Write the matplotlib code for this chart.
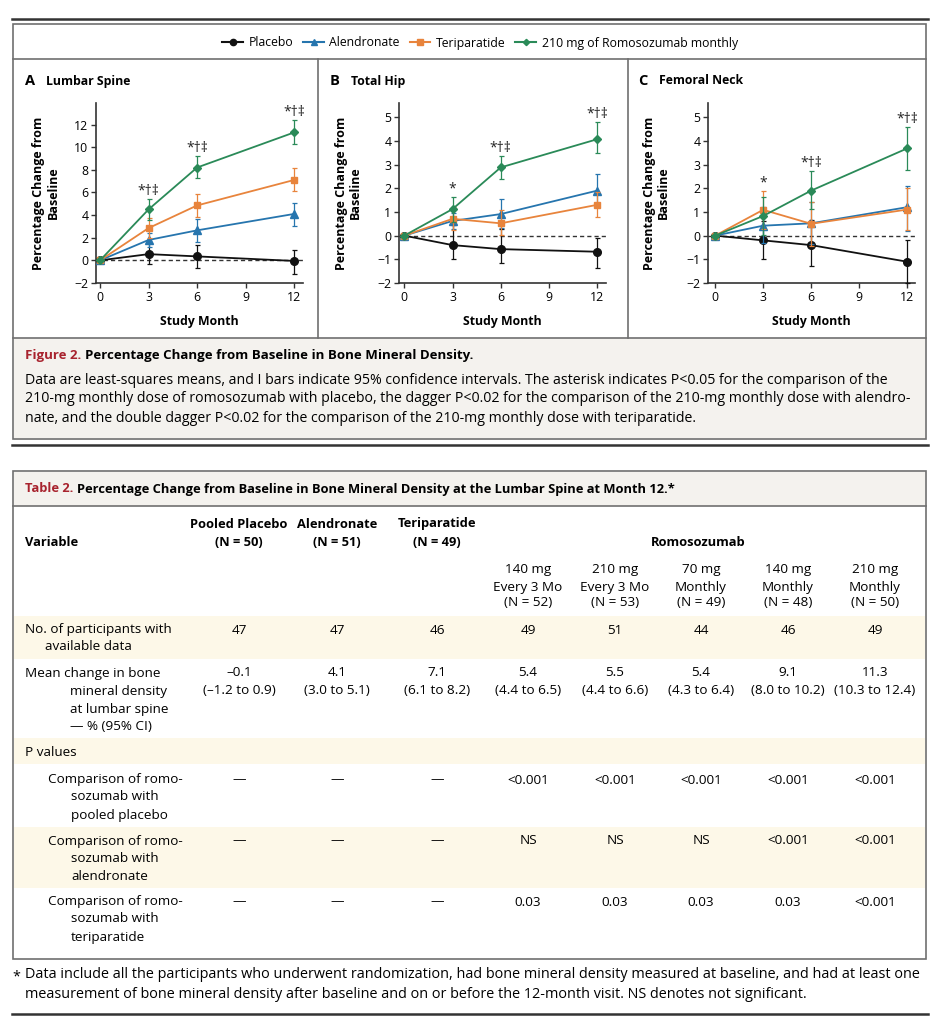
import matplotlib
matplotlib.use("Agg")
import matplotlib.pyplot as plt
from matplotlib.lines import Line2D
from matplotlib.patches import Rectangle

plt.rcParams['font.family'] = ['Open Sans', 'DejaVu Sans']

# === Данные графиков ===
months = [0, 3, 6, 12]
groups = ["Placebo", "Alendronate", "Teriparatide", "210 mg of Romosozumab monthly"]
colors = ["#111111", "#2675AE", "#E8843C", "#2A8A58"]
markers = ["o", "^", "s", "D"]
msizes = [5.5, 5.5, 5, 4.2]

# Lumbar spine: mean, lower, upper
spine_mean = [[0, 0.55, 0.35, -0.05], [0, 1.8, 2.65, 4.1], [0, 2.85, 4.85, 7.1], [0, 4.5, 8.2, 11.3]]
spine_lo = [[0, -0.3, -0.7, -1.2], [0, 1.2, 1.65, 3.0], [0, 1.95, 3.85, 6.1], [0, 3.6, 7.25, 10.3]]
spine_hi = [[0, 1.55, 1.4, 0.95], [0, 2.4, 3.65, 5.1], [0, 3.75, 5.85, 8.2], [0, 5.4, 9.2, 12.4]]
spine_sig = ["", "*†‡", "*†‡", "*†‡"]

# Total hip
hip_mean = [[0, -0.4, -0.57, -0.68], [0, 0.62, 0.91, 1.9], [0, 0.71, 0.52, 1.3], [0, 1.12, 2.88, 4.07]]
hip_lo = [[0, -0.98, -1.16, -1.37], [0, 0.3, 0.31, 1.22], [0, 0.24, 0.03, 0.77], [0, 0.59, 2.38, 3.49]]
hip_hi = [[0, 0.45, 0.3, -0.08], [0, 0.95, 1.53, 2.62], [0, 1.2, 1.08, 1.85], [0, 1.64, 3.38, 4.78]]
hip_sig = ["", "*", "*†‡", "*†‡"]

# Femoral neck
neck_mean = [[0, -0.2, -0.4, -1.1], [0, 0.42, 0.52, 1.2], [0, 1.09, 0.5, 1.1], [0, 0.83, 1.9, 3.68]]
neck_lo = [[0, -1.0, -1.27, -2.0], [0, -0.3, -0.35, 0.2], [0, 0.3, -0.42, 0.22], [0, 0.03, 1.14, 2.79]]
neck_hi = [[0, 0.6, 0.66, -0.18], [0, 1.2, 1.4, 2.1], [0, 1.9, 1.4, 2.02], [0, 1.62, 2.72, 4.6]]
neck_sig = ["", "*", "*†‡", "*†‡"]

# === Данные таблицы ===
col_groups = ["Pooled Placebo", "Alendronate", "Teriparatide"]
col_n = [50, 51, 49, 52, 53, 49, 48, 50]
romo_doses = ["140 mg", "210 mg", "70 mg", "140 mg", "210 mg"]
romo_freq = ["Every 3 Mo", "Every 3 Mo", "Monthly", "Monthly", "Monthly"]
n_available = [47, 47, 46, 49, 51, 44, 46, 49]
mean_change = [-0.1, 4.1, 7.1, 5.4, 5.5, 5.4, 9.1, 11.3]
ci_low = [-1.2, 3.0, 6.1, 4.4, 4.4, 4.3, 8.0, 10.3]
ci_high = [0.9, 5.1, 8.2, 6.5, 6.6, 6.4, 10.2, 12.4]
p_vs_placebo = ["—", "—", "—", "<0.001", "<0.001", "<0.001", "<0.001", "<0.001"]
p_vs_alendronate = ["—", "—", "—", "NS", "NS", "NS", "<0.001", "<0.001"]
p_vs_teriparatide = ["—", "—", "—", "0.03", "0.03", "0.03", "0.03", "<0.001"]

W, H = 940, 1024
RED = "#A8232E"
GRAY = "#707070"
SHADE = "#FDF8E8"
BEIGE = "#F4F2EE"
FS = 9.7     # текст таблицы
CAP = 10.2   # подпись
FOOT = 10.4  # сноска


def fx(x):
    return x / W


def fy(y):
    return 1 - y / H


fig = plt.figure(figsize=(W / 100, H / 100), dpi=100)
renderer = fig.canvas.get_renderer()


def hline(x0, x1, y, lw=1.2, color=GRAY):
    fig.add_artist(Line2D([fx(x0), fx(x1)], [fy(y), fy(y)], color=color, lw=lw,
                          transform=fig.transFigure))


def vline(x, y0, y1, lw=1.2, color=GRAY):
    fig.add_artist(Line2D([fx(x), fx(x)], [fy(y0), fy(y1)], color=color, lw=lw,
                          transform=fig.transFigure))


def box(x0, y0, x1, y1, face="none", edge=GRAY, lw=1.2):
    fig.add_artist(Rectangle((fx(x0), fy(y1)), fx(x1) - fx(x0), fy(y0) - fy(y1),
                             facecolor=face, edgecolor=edge, lw=lw,
                             transform=fig.transFigure, zorder=0))


def txt(x, y, s, size=FS, **kw):
    kw.setdefault("va", "center")
    return fig.text(fx(x), fy(y), s, fontsize=size, **kw)


def rich(x, y, parts, size):
    for s, c in parts:
        t = txt(x, y, s, size=size, color=c, fontweight="bold")
        x += t.get_window_extent(renderer=renderer).width + 4


# === Рамки ===
hline(12, 928, 19, lw=1.8, color="#333333")
box(13, 24, 926, 439)
hline(13, 926, 59)
box(14, 338, 925, 438, face=BEIGE, edge="none")
hline(13, 926, 338)
vline(318, 59, 338)
vline(628, 59, 338)
hline(12, 928, 445, lw=1.8, color="#333333")

box(13, 471, 926, 959)
box(14, 472, 925, 506, face=BEIGE, edge="none")
hline(13, 926, 506)
for y0, y1 in [(616, 659), (738, 764), (827, 888)]:
    box(14, y0, 925, y1, face=SHADE, edge="none")
hline(12, 928, 1014, lw=1.8, color="#333333")

# === Панели ===
panels = [
    ("A", "Lumbar Spine", 96, 25, 46, spine_mean, spine_lo, spine_hi, spine_sig, (-2, 13.9), range(-2, 13, 2), (-0.25, 12.55)),
    ("B", "Total Hip", 399, 330, 348, hip_mean, hip_lo, hip_hi, hip_sig, (-2, 5.6), range(-2, 6), (-0.33, 12.55)),
    ("C", "Femoral Neck", 708, 638, 656, neck_mean, neck_lo, neck_hi, neck_sig, (-2, 5.6), range(-2, 6), (-0.45, 12.5)),
]

for letter, title, left, tx, ylx, mean, lo, hi, sig, ylim, yticks, xlim in panels:
    ax = fig.add_axes([fx(left), fy(283), 207 / W, 180 / H])
    ax.axhline(0, color="#333333", lw=1, ls=(0, (3, 2.2)), zorder=1)
    for i in range(4):
        yerr = [[m - l for m, l in zip(mean[i], lo[i])], [h - m for m, h in zip(mean[i], hi[i])]]
        ax.errorbar(months, mean[i], yerr=yerr, color=colors[i], marker=markers[i],
                    ms=msizes[i], lw=1.3, elinewidth=0.9, capsize=1.8, capthick=0.9,
                    zorder=3 + i, clip_on=False)
    for k, s in enumerate(sig):
        if s:
            top = max(h[k] for h in hi)
            ax.annotate(s, (months[k], top), xytext=(0, 0), textcoords="offset points",
                        ha="center", va="bottom", fontsize=10, color="#222222")
    ax.set_xlim(*xlim)
    ax.set_ylim(*ylim)
    ax.set_xticks([0, 3, 6, 9, 12])
    ax.set_yticks(list(yticks))
    for side in ("top", "right"):
        ax.spines[side].set_visible(False)
    for side in ("left", "bottom"):
        ax.spines[side].set_linewidth(1.2)
        ax.spines[side].set_color("#333333")
    ax.tick_params(length=3.5, width=1, color="#333333", labelsize=8.8, pad=2)
    ax.patch.set_alpha(0)

    txt(tx, 81, letter, size=10.5, fontweight="bold")
    txt(tx + 21, 81, title, size=8.8, fontweight="bold")
    txt(ylx, 193, "Percentage Change from\nBaseline", size=9.0, fontweight="bold",
        rotation=90, ha="center", linespacing=1.1)
    txt(left + 103, 322, "Study Month", size=8.8, fontweight="bold", ha="center")

# === Легенда ===
handles = [Line2D([], [], color=c, marker=m, ms=s - 1, lw=1.5) for c, m, s in zip(colors, markers, msizes)]
fig.legend(handles, groups, loc="center", bbox_to_anchor=(fx(480), fy(43)), ncol=4,
           frameon=False, fontsize=8.8, handlelength=1.7, handletextpad=0.45,
           columnspacing=0.8)

# === Подпись к рисунку ===
rich(25, 356, [("Figure 2.", RED), ("Percentage Change from Baseline in Bone Mineral Density.", "black")], 9.5)
caption = [
    "Data are least-squares means, and I bars indicate 95% confidence intervals. The asterisk indicates P<0.05 for the comparison of the",
    "210-mg monthly dose of romosozumab with placebo, the dagger P<0.02 for the comparison of the 210-mg monthly dose with alendro-",
    "nate, and the double dagger P<0.02 for the comparison of the 210-mg monthly dose with teriparatide.",
]
for k, line in enumerate(caption):
    txt(25, 380 + 19 * k, line, size=CAP)

# === Таблица ===
rich(25, 489, [("Table 2.", RED), ("Percentage Change from Baseline in Bone Mineral Density at the Lumbar Spine at Month 12.*", "black")], 9.3)

col_x = [239, 337, 437, 528, 615, 701, 788, 875]
txt(25, 542, "Variable", size=9.3, fontweight="bold")
for k, name in enumerate(col_groups):
    txt(col_x[k], 524, name, size=9.3, fontweight="bold", ha="center")
    txt(col_x[k], 543, f"(N = {col_n[k]})", size=9.3, fontweight="bold", ha="center")
txt(698, 542, "Romosozumab", size=9.3, fontweight="bold", ha="center")
for k in range(5):
    x = col_x[3 + k]
    txt(x, 570, romo_doses[k], ha="center")
    txt(x, 587, romo_freq[k], ha="center")
    txt(x, 603, f"(N = {col_n[3 + k]})", ha="center")


def fmt(v):
    return f"{v:.1f}".replace("-", "–")


txt(25, 630, "No. of participants with")
txt(45, 647, "available data")
txt(25, 673, "Mean change in bone")
txt(70, 691, "mineral density")
txt(70, 709, "at lumbar spine")
txt(70, 726, "— % (95% CI)")
txt(25, 752, "P values")
for y, what in [(780, "pooled placebo"), (841, "alendronate"), (902, "teriparatide")]:
    txt(48, y, "Comparison of romo-")
    txt(71, y + 17, "sozumab with")
    txt(71, y + 35, what)

for k, x in enumerate(col_x):
    txt(x, 630, str(n_available[k]), ha="center")
    txt(x, 673, fmt(mean_change[k]), ha="center")
    txt(x, 691, f"({fmt(ci_low[k])} to {fmt(ci_high[k])})", ha="center")
    txt(x, 780, p_vs_placebo[k], ha="center")
    txt(x, 841, p_vs_alendronate[k], ha="center")
    txt(x, 902, p_vs_teriparatide[k], ha="center")

# === Сноска ===
txt(12, 977, "*", size=FOOT)
txt(25, 975, "Data include all the participants who underwent randomization, had bone mineral density measured at baseline, and had at least one", size=FOOT)
txt(25, 994, "measurement of bone mineral density after baseline and on or before the 12-month visit. NS denotes not significant.", size=FOOT)

fig.savefig("out.png", dpi=100)
